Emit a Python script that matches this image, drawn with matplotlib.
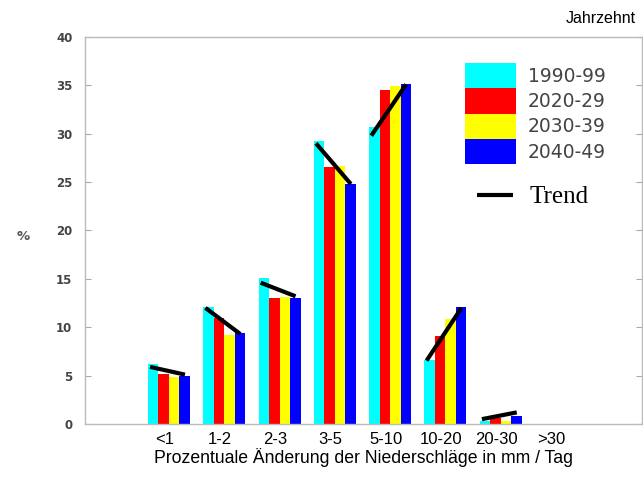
#Precipitation change histogram per decade with trend lines

#imports
import matplotlib
matplotlib.use("Agg")
import matplotlib.pyplot as plt
import matplotlib.patches as mpatches
from matplotlib.lines import Line2D
import numpy as np

#data
categories = ['<1', '1-2', '2-3', '3-5', '5-10', '10-20', '20-30', '>30']
decades = ['1990-99', '2020-29', '2030-39', '2040-49']
v1990 = [6.2, 12.1, 15.1, 29.25, 30.7, 6.6, 0.3, 0.0]
v2020 = [5.2, 11.0, 13.05, 26.6, 34.5, 9.1, 0.6, 0.0]
v2030 = [4.9, 9.2, 13.1, 26.7, 34.9, 10.9, 0.35, 0.0]
v2040 = [5.0, 9.4, 13.0, 24.8, 35.1, 12.05, 0.8, 0.0]
trend_start = [5.9, 12.0, 14.6, 29.0, 29.8, 6.55, 0.5]
trend_end = [5.1, 9.3, 13.2, 24.8, 35.1, 12.0, 1.2]

colors = ['#00ffff', '#ff0000', '#ffff00', '#0000ff']

#figure
fig = plt.figure(figsize=(6.43, 4.86), dpi=100)
ax = fig.add_axes([0.132, 0.1276, 0.866, 0.7963])

x = np.arange(len(categories))
w = 0.19
series = [v1990, v2020, v2030, v2040]
for k in range(4):
    ax.bar(x + (k - 1.5) * w, series[k], width=w, color=colors[k], linewidth=0)

#trend lines
for i in range(len(trend_start)):
    ax.plot([x[i] - 0.34, x[i] + 0.29], [trend_start[i], trend_end[i]],
            color='black', lw=3, solid_capstyle='butt')

ax.set_xlim(-1.52, 8.55)
ax.set_ylim(0, 40)
ax.set_yticks(np.arange(0, 41, 5))
ax.set_xticks(x - 0.08)
ax.set_xticklabels(categories, family='Liberation Sans', fontsize=12)
ax.tick_params(axis='x', length=0, pad=6)
ax.tick_params(axis='y', direction='in', length=4, color='#aaaaaa',
               labelsize=8.5, labelcolor='#444444', pad=9, right=True)
for lab in ax.get_yticklabels():
    lab.set_fontweight('bold')
for s in ax.spines.values():
    s.set_color('#bbbbbb')
    s.set_linewidth(1)

ax.set_xlabel('Prozentuale Änderung der Niederschläge in mm / Tag',
              family='Liberation Sans', fontsize=12.7, labelpad=0.5)
ax.set_ylabel('%', rotation=0, fontsize=9.5, color='#555555', fontweight='bold')
ax.yaxis.set_label_coords(-0.11, 0.468)

#legend
handles = [mpatches.Patch(color=c, linewidth=0) for c in colors]
leg1 = ax.legend(handles, decades, loc='upper left', bbox_to_anchor=(0.682, 0.933),
                 frameon=False, fontsize=13.5, handlelength=2.72, handleheight=1.7,
                 labelspacing=0, handletextpad=0.64, borderpad=0, borderaxespad=0)
for t in leg1.get_texts():
    t.set_color('#444444')
ax.add_artist(leg1)
ax.legend([Line2D([], [], color='black', lw=3, solid_capstyle='butt')], ['Trend'],
          loc='upper left', bbox_to_anchor=(0.704, 0.615), frameon=False,
          prop={'family': 'Liberation Serif', 'size': 18}, handlelength=1.44,
          handletextpad=0.68, borderpad=0, borderaxespad=0)

fig.text(0.989, 0.962, 'Jahrzehnt', ha='right', va='center',
         family='Liberation Sans', fontsize=11.5)

fig.savefig('out.png', dpi=100)
